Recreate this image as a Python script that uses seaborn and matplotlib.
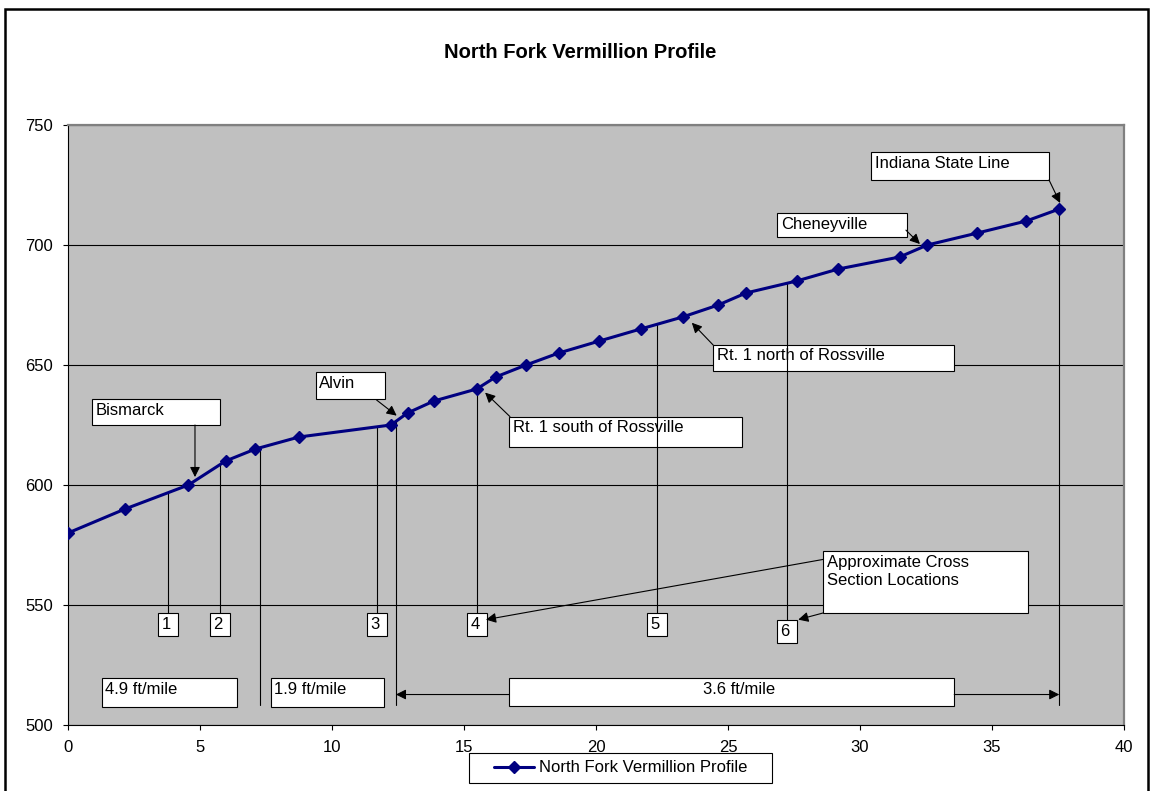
import numpy as np
import pandas as pd
import matplotlib
matplotlib.use("Agg")
import matplotlib.pyplot as plt
import seaborn as sns
from matplotlib.patches import Rectangle

# ---- data -----------------------------------------------------------------
series_name = "North Fork Vermillion Profile"
river_mile = [0.0, 2.16, 4.56, 5.97, 7.10, 8.75, 12.23, 12.86, 13.86, 15.48,
              16.20, 17.35, 18.59, 20.13, 21.69, 23.28, 24.63, 25.68, 27.60,
              29.18, 31.50, 32.55, 34.45, 36.30, 37.55]
elevation_ft = [580, 590, 600, 610, 615, 620, 625, 630, 635, 640,
                645, 650, 655, 660, 665, 670, 675, 680, 685,
                690, 695, 700, 705, 710, 715]

x_ticks = [0, 5, 10, 15, 20, 25, 30, 35, 40]
y_ticks = [500, 550, 600, 650, 700, 750]

# cross-section locations (river mile) and their labels
xsec_labels = ["1", "2", "3", "4", "5", "6"]
xsec_miles = [3.80, 5.76, 11.72, 15.50, 22.32, 27.22]

# reaches with a constant slope
slope_labels = ["4.9 ft/mile", "1.9 ft/mile", "3.6 ft/mile"]
slope_breaks = [7.27, 12.42, 37.55]

# place names: (text, box x0, box x1, box y0, box y1, arrow tail, arrow head)
place_names = ["Bismarck", "Alvin", "Rt. 1 south of Rossville",
               "Rt. 1 north of Rossville", "Cheneyville", "Indiana State Line"]
place_boxes = [(0.90, 5.76, 625.0, 635.8),
               (9.38, 12.01, 635.8, 647.2),
               (16.72, 25.52, 616.0, 628.5),
               (24.44, 33.57, 647.5, 658.5),
               (26.87, 31.77, 703.2, 713.2),
               (30.43, 37.16, 727.2, 738.7)]
place_arrows = [((4.81, 625.0), (4.81, 603.3)),
                ((11.69, 635.4), (12.45, 628.9)),
                ((16.74, 628.5), (15.80, 638.5)),
                ((24.44, 658.3), (23.63, 667.6)),
                ((31.74, 706.2), (32.27, 700.4)),
                ((37.16, 727.1), (37.58, 717.5))]

# ---- style ----------------------------------------------------------------
sns.set_theme(style="white")
plt.rcParams["font.family"] = ["Liberation Sans", "DejaVu Sans"]
plt.rcParams["text.color"] = "black"
plt.rcParams["xtick.color"] = "black"
plt.rcParams["ytick.color"] = "black"

W, H = 1151, 791
fig = plt.figure(figsize=(W / 100, H / 100), dpi=100)
fig.patch.set_facecolor("white")
ax = fig.add_axes([68 / W, 1 - 725 / H, (1124 - 68) / W, 600 / H])

NAVY = "#000080"
LW_THIN = 0.8
FS = 12
TXT_DROP = 1.6  # gap between a box's top edge and its text, in feet

df = pd.DataFrame({"mile": river_mile, "elev": elevation_ft})
sns.lineplot(data=df, x="mile", y="elev", ax=ax, color=NAVY, linewidth=2.2,
             marker="D", markersize=6.2, markeredgecolor=NAVY,
             markerfacecolor=NAVY, markeredgewidth=1, zorder=8, legend=False)
profile_line = ax.lines[0]

ax.set_facecolor("#C0C0C0")
ax.set_xlim(0, 40)
ax.set_ylim(500, 750)
ax.set_xticks(x_ticks)
ax.set_yticks(y_ticks)
ax.set_xlabel("")
ax.set_ylabel("")
ax.yaxis.grid(True, color="black", linewidth=LW_THIN)
ax.xaxis.grid(False)
ax.set_axisbelow(True)
for side in ("left", "bottom"):
    ax.spines[side].set_color("black")
    ax.spines[side].set_linewidth(LW_THIN)
for side in ("top", "right"):
    ax.spines[side].set_color("#808080")
    ax.spines[side].set_linewidth(1.6)
ax.tick_params(axis="both", direction="out", length=3.8, width=LW_THIN,
               color="black", labelsize=FS, pad=7)
ax.tick_params(axis="y", left=True)
ax.tick_params(axis="x", bottom=True)


def box(x0, x1, y0, y1, z=5):
    ax.add_patch(Rectangle((x0, y0), x1 - x0, y1 - y0, facecolor="white",
                           edgecolor="black", linewidth=LW_THIN, zorder=z))


def arrow(tail, head, z=7):
    ax.annotate("", xy=head, xytext=tail, zorder=z,
                arrowprops=dict(arrowstyle="-|>", color="black", lw=LW_THIN,
                                mutation_scale=15, shrinkA=0, shrinkB=0))


# place name call-outs
for name, (x0, x1, y0, y1), (tail, head) in zip(place_names, place_boxes,
                                               place_arrows):
    box(x0, x1, y0, y1)
    ax.text(x0 + 0.13, y1 - TXT_DROP, name, ha="left", va="top", fontsize=FS,
            zorder=6)
    arrow(tail, head)

# cross-section markers: drop lines from the profile to numbered boxes
for lab, m in zip(xsec_labels, xsec_miles):
    top = np.interp(m, river_mile, elevation_ft)
    bottom = 543.75 if lab == "6" else 546.5
    ax.plot([m, m], [top, bottom], color="black", lw=LW_THIN, zorder=7)
    box(m - 0.38, m + 0.38, bottom - 9.4, bottom)
    ax.text(m - 0.26, bottom - TXT_DROP, lab, ha="left", va="top",
            fontsize=FS, zorder=6)

# call-out for the cross sections
box(28.61, 36.38, 546.8, 572.6)
ax.text(28.75, 572.6 - TXT_DROP, "Approximate Cross\nSection Locations",
        ha="left", va="top", fontsize=FS, linespacing=1.3, zorder=6)
arrow((28.61, 569.0), (15.83, 543.9))
arrow((28.61, 546.7), (27.66, 543.9))

# reach boundaries and slope labels
for m in slope_breaks:
    top = np.interp(m, river_mile, elevation_ft)
    ax.plot([m, m], [top, 508.3], color="black", lw=LW_THIN, zorder=7)

box(1.30, 6.39, 507.4, 519.5)
ax.text(1.42, 519.5 - TXT_DROP, slope_labels[0], ha="left", va="top",
        fontsize=FS, zorder=6)
box(7.69, 11.98, 507.4, 519.5)
ax.text(7.80, 519.5 - TXT_DROP, slope_labels[1], ha="left", va="top",
        fontsize=FS, zorder=6)
box(16.72, 33.57, 508.0, 519.5)
ax.text(24.05, 519.5 - TXT_DROP, slope_labels[2], ha="left", va="top",
        fontsize=FS, zorder=6)
arrow((16.72, 512.7), (slope_breaks[1], 512.7))
arrow((33.57, 512.7), (slope_breaks[2], 512.7))

# title
fig.text(580 / W, 1 - 52 / H, "North Fork Vermillion Profile", ha="center",
         va="center", fontsize=14.5, fontweight="bold")

# legend below the plot area
fig.legend(handles=[profile_line], labels=[series_name], loc="center",
           bbox_to_anchor=(621 / W, 1 - 768 / H),
           bbox_transform=fig.transFigure, frameon=False, fontsize=FS,
           handlelength=2.4, handletextpad=0.3, borderpad=0.2)
fig.add_artist(Rectangle((469 / W, 1 - 783 / H), (772 - 469) / W, 30 / H,
                         transform=fig.transFigure, facecolor="none",
                         edgecolor="black", linewidth=LW_THIN))

# chart frame
fig.add_artist(Rectangle((5 / W, -20 / H), (1148 - 5) / W, (H - 9 + 20) / H,
                         transform=fig.transFigure, facecolor="none",
                         edgecolor="black", linewidth=1.8, clip_on=False))

fig.savefig("out.png", dpi=100)
